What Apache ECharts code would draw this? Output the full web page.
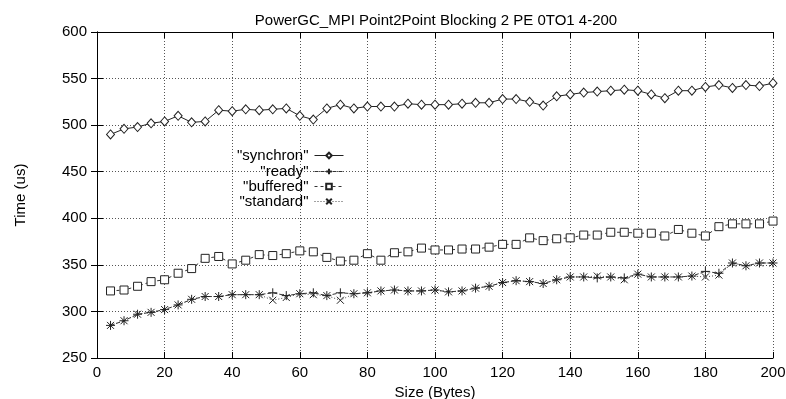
<!DOCTYPE html>
<html><head><meta charset="utf-8">
<script src="https://cdn.jsdelivr.net/npm/echarts@6/dist/echarts.min.js"></script>
<style>html,body{margin:0;padding:0;background:#fff}#c{width:786px;height:399px}</style>
</head><body><div id="c"></div>
<script>
const sizes = [4,8,12,16,20,24,28,32,36,40,44,48,52,56,60,64,68,72,76,80,84,88,92,96,100,104,108,112,116,120,124,128,132,136,140,144,148,152,156,160,164,168,172,176,180,184,188,192,196,200];
const synchron = [490,496,498,502,504,510,503,504,516,515,517,516,517,518,510,506,518,522,518,520,520,520,523,522,522,522,523,524,524,528,528,525,521,531,533,535,536,537,538,537,533,529,537,537,541,543,540,543,542,545];
const ready = [285,290,297,299,302,307,313,316,316,318,318,318,320,317,319,320,317,320,319,320,322,323,322,322,323,321,322,325,327,331,333,332,330,334,337,337,336,337,336,340,337,337,337,338,343,341,352,349,352,352];
const buffered = [322,323,327,332,334,341,346,357,359,351,355,361,360,362,365,364,358,354,355,362,355,363,364,368,366,366,367,367,369,372,372,379,376,378,379,382,382,385,385,384,384,381,388,384,381,391,394,394,394,397];
const standard = [285,290,297,299,302,307,313,316,316,318,318,318,312,315,319,318,317,312,319,320,322,323,322,322,323,321,322,325,327,331,333,332,330,334,337,337,338,337,334,340,337,337,337,338,337,339,352,349,352,352];
const names = ['"synchron"','"ready"','"buffered"','"standard"'];
const xTicks = {min:0,max:200,interval:20};
const yTicks = {min:250,max:600,interval:50};

const pair = a => sizes.map((s,i)=>[s,a[i]]);
const FONT = 'Liberation Sans, Arial, sans-serif';
const FS = 15;
const plus = 'path://M5,0L5,10M0,5L10,5';
const cross = 'path://M0,0L10,10M0,10L10,0';

const chart = echarts.init(document.getElementById('c'));
const axisCommon = {
  axisLine:{show:true,lineStyle:{color:'#000',width:1}},
  axisTick:{show:true,inside:true,length:6,lineStyle:{color:'#000'}},
  axisLabel:{color:'#000',fontFamily:FONT,fontSize:FS},
};
const mkLegend = (name, top) => ({
  data:[name], top: top, right: 442, align:'right', orient:'vertical',
  itemWidth:29, itemHeight:7, itemGap:0, padding:0,
  lineStyle:{width:1},
  textStyle:{fontFamily:FONT,fontSize:FS,color:'#000',padding:[0,1,0,0]},
  selectedMode:false
});
chart.setOption({
  animation:false,
  backgroundColor:'#fff',
  title:{text:'PowerGC_MPI Point2Point Blocking 2 PE 0TO1 4-200',left:431,textAlign:'center',top:8,
    textStyle:{fontFamily:FONT,fontSize:FS,fontWeight:'normal',color:'#000'}},
  legend:[mkLegend(names[0],148),mkLegend(names[1],164),mkLegend(names[2],179),mkLegend(names[3],194)],
  grid:{left:97,right:13,top:32,bottom:41,containLabel:false,outerBoundsMode:'none'},
  xAxis:[
    Object.assign({type:'value',position:'bottom',name:'Size (Bytes)',nameLocation:'middle',nameGap:20,
      nameTextStyle:{fontFamily:FONT,fontSize:FS,color:'#000'},
      splitLine:{show:true,lineStyle:{color:'#555',type:[1,2],width:1}}},xTicks,axisCommon,
      {axisLabel:Object.assign({},axisCommon.axisLabel,{margin:7})}),
    Object.assign({type:'value',position:'top'},xTicks,axisCommon,{axisLabel:{show:false},splitLine:{show:false}})
  ],
  yAxis:[
    Object.assign({type:'value',position:'left',name:'Time (us)',nameLocation:'middle',nameGap:69,
      nameTextStyle:{fontFamily:FONT,fontSize:FS,color:'#000'},
      splitLine:{show:true,lineStyle:{color:'#555',type:[1,2],width:1}}},yTicks,axisCommon,
      {axisLabel:Object.assign({},axisCommon.axisLabel,{margin:10})}),
    Object.assign({type:'value',position:'right'},yTicks,axisCommon,{axisLabel:{show:false},splitLine:{show:false}})
  ],
  series:[
    {name:names[0],type:'line',data:pair(synchron),symbol:'diamond',symbolSize:[8,9],
      lineStyle:{color:'#222',width:1},itemStyle:{color:'#fff',borderColor:'#222',borderWidth:1}},
    {name:names[1],type:'line',data:pair(ready),symbol:plus,symbolSize:9,
      lineStyle:{color:'#333',width:1,type:[4,2]},itemStyle:{color:'none',borderColor:'#222',borderWidth:1}},
    {name:names[2],type:'line',data:pair(buffered),symbol:'rect',symbolSize:8,
      lineStyle:{color:'#333',width:1,type:[3,3]},itemStyle:{color:'#fff',borderColor:'#222',borderWidth:1}},
    {name:names[3],type:'line',data:pair(standard),symbol:cross,symbolSize:7,
      lineStyle:{color:'#444',width:1,type:[1,2]},itemStyle:{color:'none',borderColor:'#222',borderWidth:1}}
  ]
});
</script></body></html>
